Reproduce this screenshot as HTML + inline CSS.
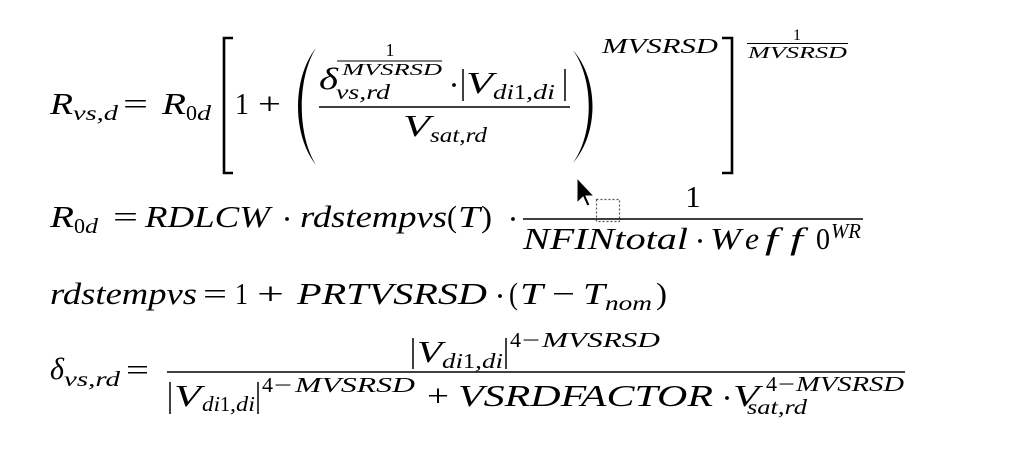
<!DOCTYPE html>
<html>
<head>
<meta charset="utf-8">
<style>
html,body{margin:0;padding:0;background:#fff;}
svg{display:block;}
text{font-family:"Liberation Serif",serif;font-size:31px;fill:#000;}
.i{font-style:italic;}
.s{font-size:21px;}
.ss{font-size:17px;}
</style>
</head>
<body>
<svg width="1013" height="461" viewBox="0 0 1013 461" xmlns="http://www.w3.org/2000/svg">
<rect width="1013" height="461" fill="#fff"/>

<!-- ===== Line 1 ===== -->
<text class="i" x="50" y="114" textLength="23" lengthAdjust="spacingAndGlyphs">R</text>
<text class="i s" x="73" y="120" textLength="45" lengthAdjust="spacingAndGlyphs">vs,d</text>
<text x="123" y="114" textLength="25" lengthAdjust="spacingAndGlyphs">=</text>
<text class="i" x="162" y="114" textLength="24" lengthAdjust="spacingAndGlyphs">R</text>
<text class="s" x="186" y="120" textLength="11" lengthAdjust="spacingAndGlyphs">0</text>
<text class="i s" x="197" y="120" textLength="14" lengthAdjust="spacingAndGlyphs">d</text>
<!-- [ -->
<path d="M233,38 H224 V173 H233" fill="none" stroke="#000" stroke-width="2.6"/>
<text x="235" y="114" textLength="14" lengthAdjust="spacingAndGlyphs">1</text>
<text x="258" y="114" textLength="23" lengthAdjust="spacingAndGlyphs">+</text>
<!-- ( -->
<path d="M316,48 C292,78 292,135 316,165 C297,135 297,78 316,48 Z" fill="#000"/>
<!-- numerator -->
<text class="i" x="319" y="89" textLength="19" lengthAdjust="spacingAndGlyphs">δ</text>
<text class="i s" x="336" y="99" textLength="54" lengthAdjust="spacingAndGlyphs">vs,rd</text>
<text class="ss" x="390" y="56" text-anchor="middle" style="font-size:18px">1</text>
<line x1="337" y1="61" x2="442" y2="61" stroke="#000" stroke-width="1.1"/>
<text class="i ss" x="342" y="75" textLength="100" lengthAdjust="spacingAndGlyphs">MVSRSD</text>
<circle cx="454" cy="85" r="1.9" fill="#000"/>
<line x1="463" y1="69" x2="463" y2="101" stroke="#000" stroke-width="1.5"/>
<text class="i" x="466" y="93" textLength="27" lengthAdjust="spacingAndGlyphs">V</text>
<text class="i s" x="493" y="99" textLength="21" lengthAdjust="spacingAndGlyphs">di</text>
<text class="s" x="514" y="99" textLength="12" lengthAdjust="spacingAndGlyphs">1</text>
<text class="i s" x="526" y="99" textLength="7" lengthAdjust="spacingAndGlyphs">,</text>
<text class="i s" x="533" y="99" textLength="22" lengthAdjust="spacingAndGlyphs">di</text>
<line x1="565" y1="69" x2="565" y2="101" stroke="#000" stroke-width="1.5"/>
<line x1="319" y1="107" x2="570" y2="107" stroke="#000" stroke-width="1.4"/>
<!-- denominator -->
<text class="i" x="403" y="136" textLength="27" lengthAdjust="spacingAndGlyphs">V</text>
<text class="i s" x="430" y="142" textLength="57" lengthAdjust="spacingAndGlyphs">sat,rd</text>
<!-- ) -->
<path d="M573,50 C599,80 599,133 573,163 C594,133 594,80 573,50 Z" fill="#000"/>
<text class="i s" x="602" y="53" textLength="116" lengthAdjust="spacingAndGlyphs">MVSRSD</text>
<!-- ] -->
<path d="M722,38 H732 V173 H722" fill="none" stroke="#000" stroke-width="2.6"/>
<text class="ss" x="797" y="40" text-anchor="middle" style="font-size:16px">1</text>
<line x1="747" y1="43.5" x2="848" y2="43.5" stroke="#000" stroke-width="1.1"/>
<text class="i ss" x="748" y="58" textLength="99" lengthAdjust="spacingAndGlyphs">MVSRSD</text>

<!-- ===== Line 2 ===== -->
<text class="i" x="50" y="227" textLength="24" lengthAdjust="spacingAndGlyphs">R</text>
<text class="s" x="74" y="233" textLength="11" lengthAdjust="spacingAndGlyphs">0</text>
<text class="i s" x="85" y="233" textLength="13" lengthAdjust="spacingAndGlyphs">d</text>
<text x="113" y="227" textLength="25" lengthAdjust="spacingAndGlyphs">=</text>
<text class="i" x="145" y="227" textLength="125" lengthAdjust="spacingAndGlyphs">RDLCW</text>
<circle cx="287" cy="219" r="1.9" fill="#000"/>
<text class="i" x="300" y="227" textLength="147" lengthAdjust="spacingAndGlyphs">rdstempvs</text>
<text x="447" y="227" textLength="10" lengthAdjust="spacingAndGlyphs">(</text>
<text class="i" x="458" y="227" textLength="22" lengthAdjust="spacingAndGlyphs">T</text>
<text x="481" y="227" textLength="11" lengthAdjust="spacingAndGlyphs">)</text>
<circle cx="513" cy="219" r="1.9" fill="#000"/>
<text x="693" y="207" text-anchor="middle">1</text>
<line x1="523" y1="219" x2="863" y2="219" stroke="#000" stroke-width="1.4"/>
<text class="i" x="523" y="249" textLength="165" lengthAdjust="spacingAndGlyphs">NFINtotal</text>
<circle cx="700" cy="241" r="1.9" fill="#000"/>
<text class="i" x="710" y="249" textLength="31" lengthAdjust="spacingAndGlyphs">W</text>
<text class="i" x="745" y="249" textLength="14" lengthAdjust="spacingAndGlyphs">e</text>
<text class="i" x="765" y="249" textLength="13" lengthAdjust="spacingAndGlyphs">f</text>
<text class="i" x="790" y="249" textLength="13" lengthAdjust="spacingAndGlyphs">f</text>
<text x="816" y="249" textLength="14" lengthAdjust="spacingAndGlyphs">0</text>
<text class="i s" x="831" y="238" textLength="30" lengthAdjust="spacingAndGlyphs">WR</text>

<!-- cursor -->
<rect x="596.5" y="199.5" width="23" height="22" fill="none" stroke="#555" stroke-width="1.2" stroke-dasharray="2,2"/>
<polygon points="577,178 577,203 583,197 587,206 590,205 586,196 594,196" fill="#000" stroke="#fff" stroke-width="1"/>

<!-- ===== Line 3 ===== -->
<text class="i" x="50" y="304" textLength="147" lengthAdjust="spacingAndGlyphs">rdstempvs</text>
<text x="203" y="304" textLength="24" lengthAdjust="spacingAndGlyphs">=</text>
<text x="235" y="304" textLength="13" lengthAdjust="spacingAndGlyphs">1</text>
<text x="257" y="304" textLength="27" lengthAdjust="spacingAndGlyphs">+</text>
<text class="i" x="297" y="304" textLength="190" lengthAdjust="spacingAndGlyphs">PRTVSRSD</text>
<circle cx="500" cy="296" r="1.9" fill="#000"/>
<text x="509" y="304" textLength="9" lengthAdjust="spacingAndGlyphs">(</text>
<text class="i" x="520" y="304" textLength="23" lengthAdjust="spacingAndGlyphs">T</text>
<text x="552" y="304" textLength="23" lengthAdjust="spacingAndGlyphs">−</text>
<text class="i" x="583" y="304" textLength="22" lengthAdjust="spacingAndGlyphs">T</text>
<text class="i s" x="605" y="310" textLength="47" lengthAdjust="spacingAndGlyphs">nom</text>
<text x="656" y="304" textLength="11" lengthAdjust="spacingAndGlyphs">)</text>

<!-- ===== Line 4 ===== -->
<text class="i" x="50" y="379" textLength="14" lengthAdjust="spacingAndGlyphs">δ</text>
<text class="i s" x="64" y="386" textLength="56" lengthAdjust="spacingAndGlyphs">vs,rd</text>
<text x="126" y="380" textLength="23" lengthAdjust="spacingAndGlyphs">=</text>
<line x1="167" y1="372" x2="905" y2="372" stroke="#000" stroke-width="1.4"/>
<!-- numerator -->
<line x1="413" y1="338" x2="413" y2="369" stroke="#000" stroke-width="1.5"/>
<text class="i" x="417" y="362" textLength="25" lengthAdjust="spacingAndGlyphs">V</text>
<text class="i s" x="442" y="368" textLength="21" lengthAdjust="spacingAndGlyphs">di</text>
<text class="s" x="463" y="368" textLength="12" lengthAdjust="spacingAndGlyphs">1</text>
<text class="i s" x="475" y="368" textLength="7" lengthAdjust="spacingAndGlyphs">,</text>
<text class="i s" x="482" y="368" textLength="21" lengthAdjust="spacingAndGlyphs">di</text>
<line x1="506" y1="338" x2="506" y2="369" stroke="#000" stroke-width="1.5"/>
<text class="s" x="510" y="347" textLength="11" lengthAdjust="spacingAndGlyphs">4</text>
<text class="s" x="522" y="347" textLength="18" lengthAdjust="spacingAndGlyphs">−</text>
<text class="i s" x="542" y="347" textLength="118" lengthAdjust="spacingAndGlyphs">MVSRSD</text>
<!-- denominator -->
<line x1="170" y1="382" x2="170" y2="414" stroke="#000" stroke-width="1.5"/>
<text class="i" x="174" y="406" textLength="27" lengthAdjust="spacingAndGlyphs">V</text>
<text class="i s" x="202" y="411" textLength="18" lengthAdjust="spacingAndGlyphs">di</text>
<text class="s" x="220" y="411" textLength="10" lengthAdjust="spacingAndGlyphs">1</text>
<text class="i s" x="230" y="411" textLength="6" lengthAdjust="spacingAndGlyphs">,</text>
<text class="i s" x="236" y="411" textLength="19" lengthAdjust="spacingAndGlyphs">di</text>
<line x1="258" y1="382" x2="258" y2="414" stroke="#000" stroke-width="1.5"/>
<text class="s" x="262" y="392" textLength="11" lengthAdjust="spacingAndGlyphs">4</text>
<text class="s" x="274" y="392" textLength="18" lengthAdjust="spacingAndGlyphs">−</text>
<text class="i s" x="295" y="392" textLength="120" lengthAdjust="spacingAndGlyphs">MVSRSD</text>
<text x="427" y="406" textLength="22" lengthAdjust="spacingAndGlyphs">+</text>
<text class="i" x="458" y="406" textLength="255" lengthAdjust="spacingAndGlyphs">VSRDFACTOR</text>
<circle cx="727" cy="398" r="1.9" fill="#000"/>
<text class="i" x="733" y="406" textLength="26" lengthAdjust="spacingAndGlyphs">V</text>
<text class="i s" x="747" y="414" textLength="60" lengthAdjust="spacingAndGlyphs">sat,rd</text>
<text class="s" x="766" y="391" textLength="11" lengthAdjust="spacingAndGlyphs">4</text>
<text class="s" x="778" y="391" textLength="17" lengthAdjust="spacingAndGlyphs">−</text>
<text class="i s" x="796" y="391" textLength="108" lengthAdjust="spacingAndGlyphs">MVSRSD</text>
</svg>
</body>
</html>
